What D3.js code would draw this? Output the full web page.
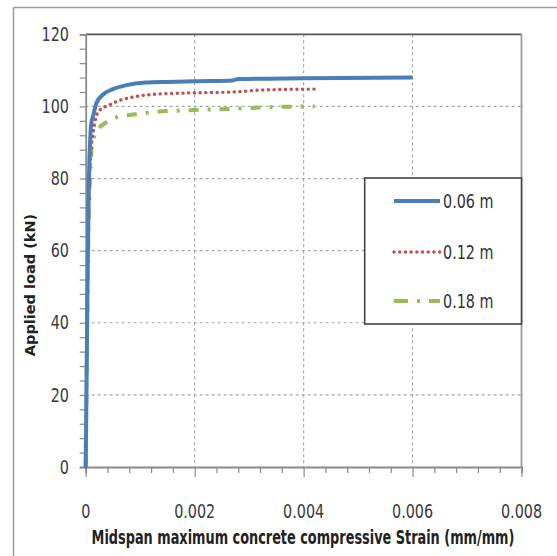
<!DOCTYPE html>
<html>
<head>
<meta charset="utf-8">
<script src="https://cdn.jsdelivr.net/npm/d3@7"></script>
<style>
  html, body { margin: 0; padding: 0; background: #fff; }
  svg { display: block; }
</style>
</head>
<body>
<svg id="chart" width="557" height="556"></svg>
<script>
// ---- data ----
const seriesNames = ["0.06 m", "0.12 m", "0.18 m"];
const strain006 = [0, 0.00002, 0.00004, 0.00006, 0.00008, 0.0001, 0.00014, 0.0002, 0.00032, 0.0005, 0.00075, 0.0011, 0.0015, 0.002, 0.0027, 0.0028, 0.004, 0.006];
const load006   = [0, 30, 60, 80, 90, 95, 97.6, 101, 103.3, 104.8, 105.9, 106.6, 106.8, 107, 107.2, 107.6, 107.8, 108];
const strain012 = [0, 0.00002, 0.00004, 0.00007, 0.0001, 0.00014, 0.0002, 0.00029, 0.00039, 0.00063, 0.00087, 0.0012, 0.0018, 0.0027, 0.0033, 0.0042];
const load012   = [0, 30, 60, 80, 88, 93, 97.6, 99.4, 100.1, 101.7, 102.6, 103.3, 103.7, 104, 104.6, 104.8];
const strain018 = [0, 0.00002, 0.00005, 0.00008, 0.00012, 0.00018, 0.00026, 0.00035, 0.00059, 0.00091, 0.0013, 0.0018, 0.0028, 0.0034, 0.0042];
const load018   = [0, 30, 65, 80, 89.8, 92.5, 94.3, 95.3, 97.1, 97.8, 98.5, 98.9, 99.4, 99.8, 100];
const xTicks = [0, 0.002, 0.004, 0.006, 0.008];
const xTickLabels = ["0", "0.002", "0.004", "0.006", "0.008"];
const yTicks = [0, 20, 40, 60, 80, 100, 120];
const xTitle = "Midspan maximum concrete compressive Strain (mm/mm)";
const yTitle = "Applied load (kN)";

// ---- layout ----
const svg = d3.select("#chart");
const L = 85.7, R = 521.5, T = 34.3, B = 467;
const x = d3.scaleLinear().domain([0, 0.008]).range([L, R]);
const y = d3.scaleLinear().domain([0, 120]).range([B, T]);
const cond = "'DejaVu Sans Condensed','DejaVu Sans',sans-serif";
const SX = 0.84;

function stext(g, tx, ty, anchor, size, str, fill, weight) {
  return g.append("text")
    .attr("transform", `translate(${tx},${ty}) scale(${SX},1)`)
    .attr("dy", "0.35em").attr("text-anchor", anchor)
    .attr("font-family", cond).attr("font-size", size)
    .attr("font-weight", weight || "normal")
    .attr("fill", fill).text(str);
}
// text squeezed horizontally to a target width through a scale transform
function fitText(g, tx, ty, rot, width, family, size, str) {
  const t = g.append("text").attr("text-anchor", "middle")
    .attr("font-family", family).attr("font-size", size).attr("font-weight", "bold")
    .attr("fill", "#222").text(str);
  const w = t.node().getComputedTextLength();
  const s = Math.min(1, width / w);
  t.attr("transform", `translate(${tx},${ty}) rotate(${rot}) scale(${s},1)`);
  return t;
}

// outer chart border (top and left edges visible)
svg.append("line").attr("x1", 13.5).attr("x2", 557).attr("y1", 7.5).attr("y2", 7.5)
  .attr("stroke", "#9a9a9a").attr("stroke-width", 1.5);
svg.append("line").attr("x1", 13.5).attr("x2", 13.5).attr("y1", 7.5).attr("y2", 556)
  .attr("stroke", "#9a9a9a").attr("stroke-width", 1.5);

// gridlines
const grid = svg.append("g").attr("stroke", "#a8a8a8").attr("stroke-width", 1.2).attr("stroke-dasharray", "3,3");
[20, 40, 60, 80, 100].forEach(v => grid.append("line").attr("x1", L).attr("x2", R).attr("y1", y(v)).attr("y2", y(v)));
[0.002, 0.004, 0.006].forEach(v => grid.append("line").attr("y1", T).attr("y2", B).attr("x1", x(v)).attr("x2", x(v)));

// plot border top/right
svg.append("line").attr("x1", L).attr("x2", R).attr("y1", T).attr("y2", T).attr("stroke", "#555").attr("stroke-width", 1.8);
svg.append("line").attr("x1", R).attr("x2", R).attr("y1", T).attr("y2", B).attr("stroke", "#9a9a9a").attr("stroke-width", 1.8);

// axes
const xAxis = svg.append("g").attr("transform", `translate(0,${B})`)
  .call(d3.axisBottom(x).tickValues(d3.range(0, 0.00801, 0.0004)).tickSize(6).tickFormat(""));
xAxis.selectAll(".tick line").attr("y2", (d) => (Math.abs(d / 0.002 - Math.round(d / 0.002)) < 1e-6 ? 10 : 6));
const yAxis = svg.append("g").attr("transform", `translate(${L},0)`)
  .call(d3.axisLeft(y).tickValues(d3.range(0, 120.01, 4)).tickSize(6).tickFormat(""));
[xAxis, yAxis].forEach(a => {
  a.select(".domain").attr("stroke", "#8a8a8a").attr("stroke-width", 1.8);
  a.selectAll(".tick line").attr("stroke", "#8a8a8a").attr("stroke-width", 1.2);
});

// tick labels
const xl = svg.append("g");
xTicks.forEach((d, i) => stext(xl, x(d), 511, "middle", 19, xTickLabels[i], "#3a3a3a"));
const yl = svg.append("g");
yTicks.forEach(d => stext(yl, 69, y(d), "end", 19, String(d), "#3a3a3a"));

// titles
fitText(svg, 303, 544, 0, 423, cond, 19, xTitle);
fitText(svg, 35, 285, -90, 144, "'DejaVu Sans',sans-serif", 14.5, yTitle);

// series
const styles = [
  { color: "#4a7ebb", width: 4, dash: null, cap: "butt" },
  { color: "#c0504d", width: 3.4, dash: "0.1,5.6", cap: "round" },
  { color: "#9bbb59", width: 4, dash: "10,9,3,9", cap: "butt" }
];
const data = [
  strain006.map((s, i) => [s, load006[i]]),
  strain012.map((s, i) => [s, load012[i]]),
  strain018.map((s, i) => [s, load018[i]])
];
const line = d3.line().x(d => x(d[0])).y(d => y(d[1])).curve(d3.curveMonotoneX);
[2, 1, 0].forEach(i => {
  svg.append("path").datum(data[i]).attr("d", line).attr("fill", "none")
    .attr("stroke", styles[i].color).attr("stroke-width", styles[i].width)
    .attr("stroke-dasharray", styles[i].dash).attr("stroke-linecap", styles[i].cap);
});

// legend
const lg = svg.append("g");
lg.append("rect").attr("x", 364.7).attr("y", 178).attr("width", R - 364.7).attr("height", 146)
  .attr("fill", "#fff").attr("stroke", "#444").attr("stroke-width", 1.6);
const ly = [201, 252, 301];
seriesNames.forEach((n, i) => {
  lg.append("line").attr("x1", 394).attr("x2", 440).attr("y1", ly[i]).attr("y2", ly[i])
    .attr("stroke", styles[i].color).attr("stroke-width", styles[i].width)
    .attr("stroke-dasharray", i === 2 ? "14,9,3,9" : styles[i].dash).attr("stroke-linecap", styles[i].cap);
  stext(lg, 443, ly[i], "start", 19, n, "#333");
});
</script>
</body>
</html>
